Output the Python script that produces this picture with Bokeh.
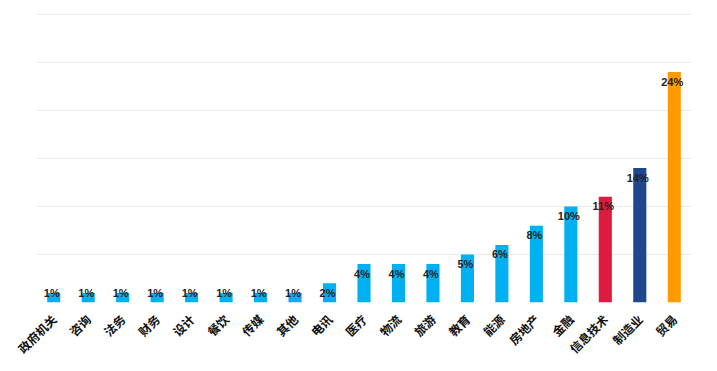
import math
from bokeh.plotting import figure
from bokeh.models import ColumnDataSource
from bokeh.core.properties import value
from bokeh.embed import file_html
from bokeh.resources import INLINE

categories = ["政府机关", "咨询", "法务", "财务", "设计", "餐饮", "传媒", "其他", "电讯",
              "医疗", "物流", "旅游", "教育", "能源", "房地产", "金融", "信息技术", "制造业", "贸易"]
values = [1, 1, 1, 1, 1, 1, 1, 1, 2, 4, 4, 4, 5, 6, 8, 10, 11, 14, 24]
colors = ["#00B0F0"] * 16 + ["#DC1C3E", "#1F478E", "#FF9A00"]
labels = [f"{v}%" for v in values]
y_ticks = [0, 5, 10, 15, 20, 25, 30]

label_y = [max(v - 1.0, 1.0) for v in values]

src = ColumnDataSource(dict(cat=categories, val=values, col=colors, lab=labels, ly=label_y))

p = figure(x_range=categories, y_range=(0, 30.2), width=717, height=371,
           output_backend="svg", toolbar_location=None,
           min_border_left=36, min_border_right=26, min_border_top=12, min_border_bottom=69)
p.outline_line_color = None
p.background_fill_color = "white"
p.border_fill_color = "white"

p.vbar(x="cat", top="val", width=0.38, fill_color="col", line_color=None, source=src)
p.text(x="cat", y="ly", text="lab", source=src, text_align="center", text_baseline="middle",
       x_offset=-2, text_font=value("Liberation Sans"), text_font_style="bold",
       text_font_size="11px", text_color="#222222")

p.yaxis.visible = False
p.ygrid.ticker = y_ticks
p.ygrid.grid_line_color = "#EBEBEB"
p.ygrid.grid_line_width = 1
p.xgrid.grid_line_color = None

p.xaxis.axis_line_color = None
p.xaxis.major_tick_line_color = None
p.xaxis.minor_tick_line_color = None
p.xaxis.major_label_orientation = math.pi / 4
p.xaxis.major_label_text_font = "Noto Sans CJK SC"
p.xaxis.major_label_text_font_style = "bold"
p.xaxis.major_label_text_font_size = "12px"
p.xaxis.major_label_text_color = "#111111"
p.xaxis.major_label_standoff = 8

open("out.html", "w").write(file_html(p, INLINE))
